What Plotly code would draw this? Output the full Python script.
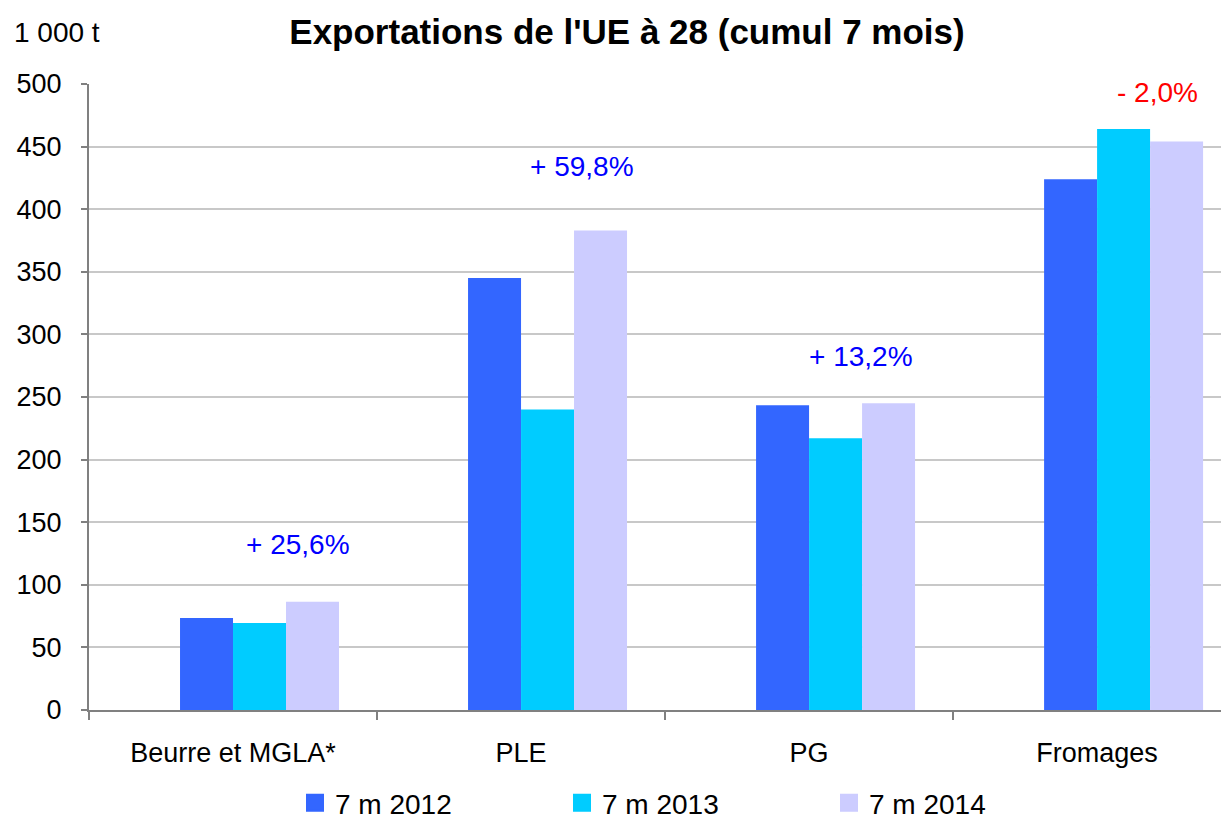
import plotly.graph_objects as go

categories = ["Beurre et MGLA*", "PLE", "PG", "Fromages"]
series_names = ["7 m 2012", "7 m 2013", "7 m 2014"]
values_2012 = [73.5, 345, 243.5, 424]
values_2013 = [69.5, 240, 217, 464]
values_2014 = [86.5, 383, 245, 454]
colors = ["#3366FF", "#00CCFF", "#CCCCFF"]

changes = ["+ 25,6%", "+ 59,8%", "+ 13,2%", "- 2,0%"]
change_colors = ["#0000FF", "#0000FF", "#0000FF", "#FF0000"]
change_x = [0.226, 1.21, 2.18, 3.21]
change_y = [132, 434, 282, 493]

FONT = "Liberation Sans, Arial, sans-serif"
bw = 0.184
offsets = [-bw, 0.0, bw]

# page body has an 8px margin, so the figure is drawn from (8, 8)
W, H = 1221, 811
L, T, B, R = 81, 76, 109, 0
PW = W - L - R
PH = H - T - B

fig = go.Figure()
for name, vals, col, off in zip(series_names, [values_2012, values_2013, values_2014], colors, offsets):
    fig.add_trace(go.Bar(
        x=categories, y=vals, name=name, showlegend=False,
        marker=dict(color=col, line=dict(width=0)),
        width=bw, offset=off,
    ))
# legend entries with larger square swatches
for name, col in zip(series_names, colors):
    fig.add_trace(go.Scatter(
        x=[None], y=[None], mode="markers", name=name,
        marker=dict(symbol="square", size=16, color=col, line=dict(color=col, width=2)),
    ))

for txt, col, xx, yy in zip(changes, change_colors, change_x, change_y):
    fig.add_annotation(x=xx, y=yy, text=txt, showarrow=False,
                       font=dict(family=FONT, size=28, color=col),
                       xref="x", yref="y")

fig.add_annotation(x=(4 - L) / PW, y=1 + (T - 24) / PH, xref="paper", yref="paper",
                   xanchor="left", yanchor="middle", text="1 000 t", showarrow=False,
                   font=dict(family=FONT, size=28, color="#000000"))

fig.update_layout(
    width=W, height=H,
    margin=dict(l=L, r=R, t=T, b=B, autoexpand=False),
    paper_bgcolor="white", plot_bgcolor="white",
    barmode="overlay",
    title=dict(text="<b>Exportations de l'UE à 28 (cumul 7 mois)</b>",
               x=619 / W, xanchor="center", y=1 - 24 / H, yanchor="middle",
               font=dict(family=FONT, size=35, color="#000000")),
    font=dict(family=FONT, size=27, color="#000000"),
    showlegend=True,
    legend=dict(orientation="h", x=(287 - L) / PW, xanchor="left",
                y=-(795 - (H - B)) / PH, yanchor="middle",
                font=dict(family=FONT, size=28, color="#000000"),
                entrywidth=222, entrywidthmode="pixels", itemsizing="trace",
                traceorder="normal", tracegroupgap=0),
    xaxis=dict(type="category", range=[-0.5, 3.458], showgrid=False,
               showline=True, linecolor="#808080", linewidth=2,
               ticks="outside", tickson="boundaries", ticklen=8, tickcolor="#808080", tickwidth=2,
               ticklabelstandoff=18,
               tickfont=dict(family=FONT, size=27, color="#000000"), fixedrange=True),
    yaxis=dict(range=[0, 500], dtick=50, showgrid=True, gridcolor="#C8C8C8", gridwidth=2,
               showline=True, linecolor="#808080", linewidth=2,
               ticks="outside", ticklen=6, tickcolor="#808080", tickwidth=2,
               ticklabelstandoff=14,
               tickfont=dict(family=FONT, size=27, color="#000000"), zeroline=False),
)

fig.write_html("out.html")
